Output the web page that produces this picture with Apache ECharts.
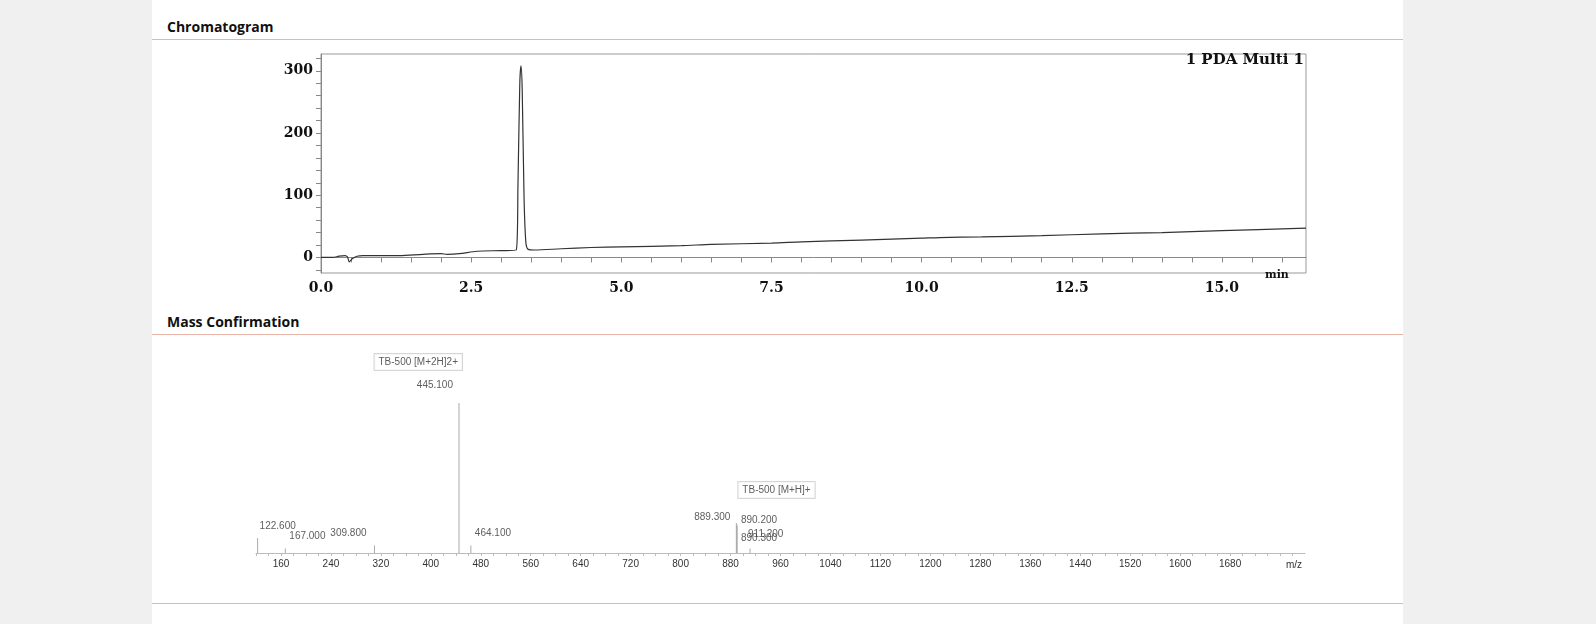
<!DOCTYPE html><html><head><meta charset="utf-8">
<script src="https://cdn.jsdelivr.net/npm/echarts@6/dist/echarts.min.js"></script>
<style>
body{margin:0;background:#f0f0f0;width:1596px;height:624px;overflow:hidden;font-family:"Open Sans",sans-serif}
#panel{position:absolute;left:152px;top:0;width:1251px;height:624px;background:#fff}
.h{position:absolute;left:167px;font-weight:700;font-size:14px;color:#111}
.ln{position:absolute;left:152px;width:1251px;height:1px;background:#e8b4a8}
#c{position:absolute;left:0;top:0;width:1596px;height:624px}
</style></head><body>
<div id="panel"></div>
<div class="h" style="top:17px">Chromatogram</div><div class="ln" style="top:39px"></div>
<div class="h" style="top:312px">Mass Confirmation</div><div class="ln" style="top:334px"></div>
<div class="ln" style="top:603px"></div>
<div id="c"></div>
<script>
const chromTime=[0,0.2,0.3,0.4,0.44,0.47,0.52,0.6,0.7,1.0,1.3,1.7,2.0,2.1,2.3,2.6,3.0,3.25,3.28,3.31,3.33,3.35,3.38,3.41,3.45,3.55,4.0,4.5,5.0,6.0,6.5,7.5,8.0,9.0,10.0,10.3,11.0,12.0,13.0,14.0,15.0,16.4];
const chromAbs=[0,0,2,3,1,-7,-2,2,3,3,3,5,6,5,6,10,11,12,120,280,308,270,100,25,13,12,14,16,17,19,21,23,25,28,31,32,33,35,38,40,43,47];
const mzValues=[122.6,167.0,309.8,445.1,464.1,889.3,890.2,890.3,911.2];
const mzIntensity=[10,3,5,100,5,20,19,18,3];
const mzLabels=['122.600','167.000','309.800','445.100','464.100','889.300','890.200','890.300','911.200'];
const mzTicks=[160,240,320,400,480,560,640,720,800,880,960,1040,1120,1200,1280,1360,1440,1520,1600,1680];
const chromTicks=[0,2.5,5,7.5,10,12.5,15];

const serif='"DejaVu Serif","Liberation Serif",serif';
const labOff={'122.600':[2,-2,'left'],'167.000':[4,-2,'left'],'309.800':[-8,-2,'right'],'445.100':[-6,-8,'right'],'464.100':[4,-2,'left'],
'889.300':[-6,4,'right'],'890.200':[4,6,'left'],'890.300':[4,22,'left'],'911.200':[-2,-4,'left']};
const ch=echarts.init(document.getElementById('c'));
ch.setOption({
animation:false,
grid:[{left:321,right:290,top:54,bottom:351},{left:256,right:291,top:370,bottom:71}],
xAxis:[{gridIndex:0,type:'value',min:0,max:16.4,
  axisLine:{lineStyle:{color:'#888'}},axisTick:{customValues:[0,0.5,1,1.5,2,2.5,3,3.5,4,4.5,5,5.5,6,6.5,7,7.5,8,8.5,9,9.5,10,10.5,11,11.5,12,12.5,13,13.5,14,14.5,15,15.5,16],length:5,lineStyle:{color:'#888'}},
  axisLabel:{customValues:chromTicks,formatter:v=>v.toFixed(1),fontFamily:serif,fontWeight:'bold',fontSize:14,color:'#111',margin:8},
  splitLine:{show:false}},
 {gridIndex:1,type:'value',min:120,max:1800,
  axisLine:{lineStyle:{color:'#bbb'}},axisTick:{customValues:Array.from({length:84},(_,i)=>120+i*20),length:3,lineStyle:{color:'#bbb'}},
  axisLabel:{customValues:mzTicks,formatter:v=>String(v),fontFamily:'Liberation Sans,Arial',fontSize:10,color:'#333',margin:6},
  splitLine:{show:false}}],
yAxis:[{gridIndex:0,type:'value',min:-25,max:327,
  axisLine:{show:true,lineStyle:{color:'#888'}},axisTick:{customValues:[-20,0,20,40,60,80,100,120,140,160,180,200,220,240,260,280,300,320],length:5,lineStyle:{color:'#888'}},
  axisLabel:{customValues:[0,100,200,300],fontFamily:serif,fontWeight:'bold',fontSize:14,color:'#111',margin:8},splitLine:{show:false}},
 {gridIndex:1,type:'value',min:0,max:122,show:false,splitLine:{show:false}}],
graphic:[{type:'rect',shape:{x:321,y:54,width:985,height:219},style:{fill:'none',stroke:'#999',lineWidth:1},silent:true},
 {type:'text',right:292,top:53,style:{text:'1 PDA Multi 1',font:'bold 15px '+serif,fill:'#111'}},
 {type:'text',left:1265,top:270,style:{text:'min',font:'bold 11px '+serif,fill:'#111'}},
 {type:'text',left:1286,top:560,style:{text:'m/z',font:'10px Liberation Sans,Arial',fill:'#333'}}],
series:[
{type:'line',xAxisIndex:0,yAxisIndex:0,data:chromTime.map((t,i)=>[t,chromAbs[i]]),showSymbol:false,smooth:0.3,lineStyle:{color:'#333',width:1.2},
 markPoint:{symbol:'none',data:[{coord:[3.33,308],label:{show:true,formatter:'TB-500',rotate:90,fontFamily:'"Liberation Serif",serif',fontWeight:'bold',fontSize:18,color:'#111',offset:[22,22]}}]}},
{type:'bar',xAxisIndex:1,yAxisIndex:1,barWidth:1,barGap:'-100%',itemStyle:{color:'#aaa'},data:mzValues.map((m,i)=>[m,mzIntensity[i]])},
{type:'scatter',xAxisIndex:1,yAxisIndex:1,symbolSize:0,data:mzValues.map((m,i)=>({value:[m,mzIntensity[i]],label:{show:true,formatter:mzLabels[i],
  position:'top',offset:[labOff[mzLabels[i]][0],labOff[mzLabels[i]][1]],align:labOff[mzLabels[i]][2],fontSize:10,color:'#333',fontFamily:'Liberation Sans,Arial'}}))},
{type:'scatter',xAxisIndex:1,yAxisIndex:1,symbolSize:0,data:[
 {value:[309.8,100],label:{show:true,formatter:'TB-500 [M+2H]2+',position:'top',align:'left',offset:[0,-28],fontSize:10,color:'#333',borderColor:'#ccc',borderWidth:1,padding:[3,4],backgroundColor:'#fff'}},
 {value:[889.3,20],label:{show:true,formatter:'TB-500 [M+H]+',position:'top',align:'left',offset:[2,-20],fontSize:10,color:'#333',borderColor:'#ccc',borderWidth:1,padding:[3,4],backgroundColor:'#fff'}}]}
]});
</script></body></html>
